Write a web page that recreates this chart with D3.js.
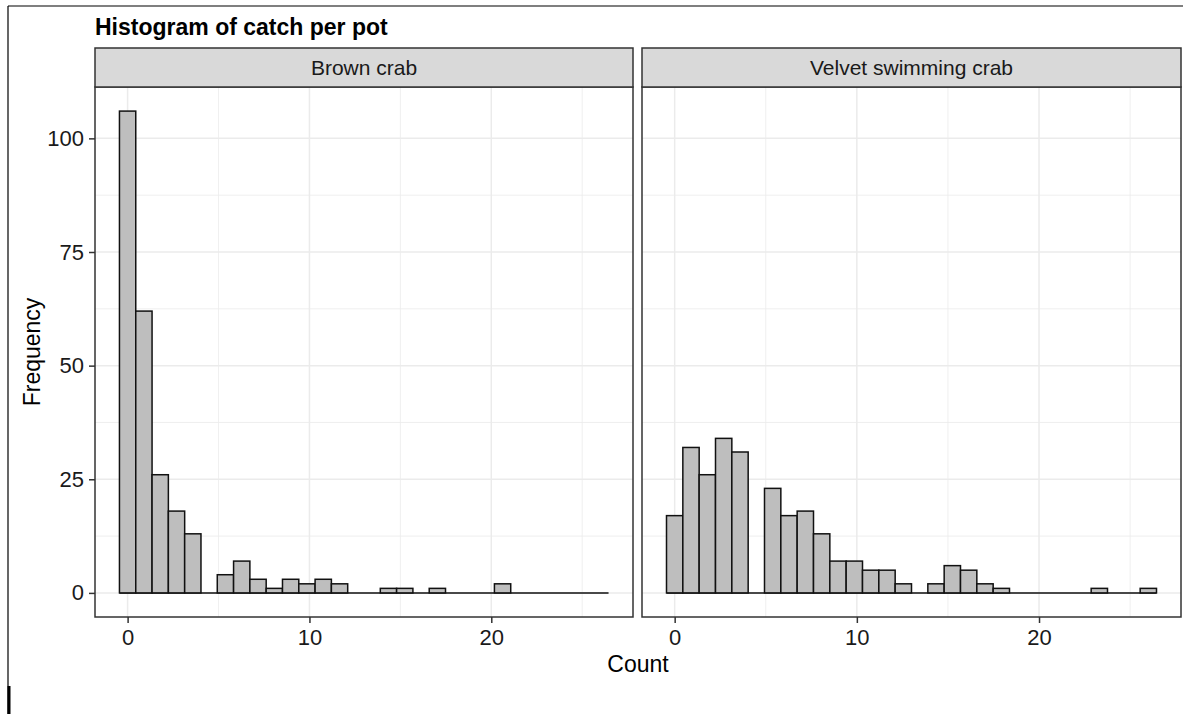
<!DOCTYPE html>
<html>
<head>
<meta charset="utf-8">
<script src="https://cdn.jsdelivr.net/npm/d3@7"></script>
<style>
  html, body { margin: 0; padding: 0; background: #ffffff; }
  svg { display: block; font-family: "Liberation Sans", Arial, sans-serif; }
</style>
</head>
<body>
<svg id="chart" width="1183" height="714"></svg>
<script>
// Facet labels
const panels = ["Brown crab", "Velvet swimming crab"];

// Pot counts per bin (30 bins of equal width spanning 0..26, bins centred on whole steps of the width)
const brownCrab  = [106, 62, 26, 18, 13, 0, 4, 7, 3, 1, 3, 2, 3, 2, 0, 0, 1, 1, 0, 1, 0, 0, 0, 2, 0, 0, 0, 0, 0, 0];
const velvetCrab = [17, 32, 26, 34, 31, 0, 23, 17, 18, 13, 7, 7, 5, 5, 2, 0, 2, 6, 5, 2, 1, 0, 0, 0, 0, 0, 1, 0, 0, 1];

// Axis ticks
const xTicks = [0, 10, 20];
const xMinorTicks = [5, 15, 25];
const yTicks = [0, 25, 50, 75, 100];
const yMinorTicks = [12.5, 37.5, 62.5, 87.5];

const title = "Histogram of catch per pot";
const xTitle = "Count";
const yTitle = "Frequency";

// Histogram binning: 30 bins across the observed range 0..26
const nBins = 30;
const dataMax = 26;
const binWidth = dataMax / (nBins - 1);
const bins = d3.range(nBins).map(i => ({ x0: i * binWidth - binWidth / 2, x1: i * binWidth + binWidth / 2 }));

const series = [brownCrab, velvetCrab];

const svg = d3.select("#chart");

// Outer frame lines
svg.append("line").attr("x1", 8).attr("x2", 1183).attr("y1", 6).attr("y2", 6)
  .attr("stroke", "#000").attr("stroke-width", 1.2);
svg.append("line").attr("x1", 8).attr("x2", 8).attr("y1", 6).attr("y2", 714)
  .attr("stroke", "#000").attr("stroke-width", 1.2);
svg.append("line").attr("x1", 9).attr("x2", 9).attr("y1", 686).attr("y2", 714)
  .attr("stroke", "#000").attr("stroke-width", 3);

// Layout of the panels
const panelTop = 87, panelBottom = 617;
const stripTop = 48;
const panelX = [[95, 633], [642, 1181]];

// Shared scales with 5% expansion around the data range
const xLo = bins[0].x0, xHi = bins[nBins - 1].x1;
const xPad = (xHi - xLo) * 0.05;
const yMax = d3.max(series.flat());
const yPad = yMax * 0.05;

const y = d3.scaleLinear().domain([-yPad, yMax + yPad]).range([panelBottom, panelTop]);

const textCol = "#1a1a1a";
const gridCol = "#ebebeb";
const borderCol = "#333333";

panels.forEach((name, p) => {
  const [left, right] = panelX[p];
  const x = d3.scaleLinear().domain([xLo - xPad, xHi + xPad]).range([left, right]);
  const g = svg.append("g");

  // panel background
  g.append("rect").attr("x", left).attr("y", panelTop).attr("width", right - left)
    .attr("height", panelBottom - panelTop).attr("fill", "#fff");

  // minor grid
  g.selectAll(".ymin").data(yMinorTicks).join("line")
    .attr("x1", left).attr("x2", right).attr("y1", d => y(d)).attr("y2", d => y(d))
    .attr("stroke", gridCol).attr("stroke-width", 0.8);
  g.selectAll(".xmin").data(xMinorTicks).join("line")
    .attr("x1", d => x(d)).attr("x2", d => x(d)).attr("y1", panelTop).attr("y2", panelBottom)
    .attr("stroke", gridCol).attr("stroke-width", 0.8);
  // major grid
  g.selectAll(".ymaj").data(yTicks).join("line")
    .attr("x1", left).attr("x2", right).attr("y1", d => y(d)).attr("y2", d => y(d))
    .attr("stroke", gridCol).attr("stroke-width", 1.5);
  g.selectAll(".xmaj").data(xTicks).join("line")
    .attr("x1", d => x(d)).attr("x2", d => x(d)).attr("y1", panelTop).attr("y2", panelBottom)
    .attr("stroke", gridCol).attr("stroke-width", 1.5);

  // bars
  const counts = series[p];
  const binData = bins.map((b, i) => ({ ...b, n: counts[i] }));
  g.append("line")
    .attr("x1", x(bins[0].x0)).attr("x2", x(bins[nBins - 1].x1))
    .attr("y1", y(0)).attr("y2", y(0))
    .attr("stroke", "#111").attr("stroke-width", 1.5);
  g.selectAll(".bar").data(binData.filter(d => d.n > 0)).join("rect")
    .attr("x", d => x(d.x0)).attr("width", d => x(d.x1) - x(d.x0))
    .attr("y", d => y(d.n)).attr("height", d => y(0) - y(d.n))
    .attr("fill", "#bebebe").attr("stroke", "#111").attr("stroke-width", 1.5);

  // panel border
  g.append("rect").attr("x", left).attr("y", panelTop).attr("width", right - left)
    .attr("height", panelBottom - panelTop).attr("fill", "none")
    .attr("stroke", borderCol).attr("stroke-width", 1.5);

  // strip
  g.append("rect").attr("x", left).attr("y", stripTop).attr("width", right - left)
    .attr("height", panelTop - stripTop).attr("fill", "#d9d9d9")
    .attr("stroke", borderCol).attr("stroke-width", 1.5);
  g.append("text").attr("x", (left + right) / 2).attr("y", (stripTop + panelTop) / 2)
    .attr("dy", "0.35em").attr("text-anchor", "middle")
    .attr("font-size", 21).attr("fill", textCol).text(name);

  // x axis
  const xAxis = d3.axisBottom(x).tickValues(xTicks).tickSize(6).tickPadding(6);
  const xa = svg.append("g").attr("transform", `translate(0,${panelBottom})`).call(xAxis);
  xa.select(".domain").remove();
  xa.selectAll(".tick line").attr("stroke", borderCol).attr("stroke-width", 1.5);
  xa.selectAll(".tick text").attr("font-size", 22).attr("fill", textCol)
    .attr("font-family", "Liberation Sans, Arial, sans-serif");

  // y axis on the first panel only
  if (p === 0) {
    const yAxis = d3.axisLeft(y).tickValues(yTicks).tickSize(6).tickPadding(5);
    const ya = svg.append("g").attr("transform", `translate(${left},0)`).call(yAxis);
    ya.select(".domain").remove();
    ya.selectAll(".tick line").attr("stroke", borderCol).attr("stroke-width", 1.5);
    ya.selectAll(".tick text").attr("font-size", 22).attr("fill", textCol)
      .attr("font-family", "Liberation Sans, Arial, sans-serif");
  }
});

// titles
svg.append("text").attr("x", 95).attr("y", 35)
  .attr("font-size", 23).attr("font-weight", "bold").attr("fill", "#000").text(title);
svg.append("text").attr("x", (panelX[0][0] + panelX[1][1]) / 2).attr("y", 672)
  .attr("text-anchor", "middle").attr("font-size", 23).attr("fill", "#000").text(xTitle);
svg.append("text")
  .attr("transform", `translate(40,${(panelTop + panelBottom) / 2}) rotate(-90)`)
  .attr("text-anchor", "middle").attr("font-size", 23).attr("fill", "#000").text(yTitle);
</script>
</body>
</html>
